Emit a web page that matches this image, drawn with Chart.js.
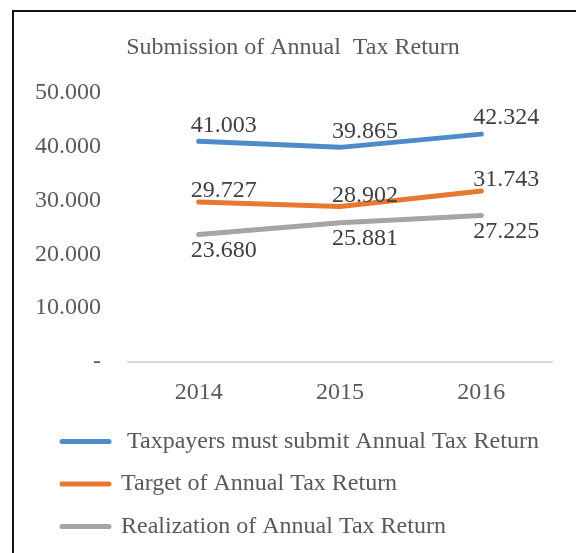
<!DOCTYPE html>
<html>
<head>
<meta charset="utf-8">
<script src="https://cdn.jsdelivr.net/npm/chart.js@4/dist/chart.umd.min.js"></script>
<style>
  html, body { margin: 0; padding: 0; background: #fff; overflow: hidden; }
  #wrap { position: absolute; left: 0; top: 0; width: 576px; height: 558px; }
  #frame { position: absolute; left: 12px; top: 10px; width: 700px; height: 700px;
           border-left: 2px solid #111; border-top: 2px solid #111; pointer-events: none; }
</style>
</head>
<body>
<div id="wrap"><canvas id="line_chart"></canvas></div>
<div id="frame"></div>
<script>
const years = ["2014", "2015", "2016"];
const mustSubmit = [41003, 39865, 42324];
const target = [29727, 28902, 31743];
const realization = [23680, 25881, 27225];
const yTickLabels = ["-", "10.000", "20.000", "30.000", "40.000", "50.000"];
const seriesNames = [
  " Taxpayers must submit Annual Tax Return",
  "Target of Annual Tax Return",
  "Realization of Annual Tax Return",
];

const serif = '"Liberation Serif", "Times New Roman", serif';

// 41003 -> "41.003"
function fmt(v) {
  return (v / 1000).toFixed(3);
}

// value labels next to each point (no datalabels plugin available)
const valueLabels = {
  id: "valueLabels",
  afterDatasetsDraw(chart) {
    const ctx = chart.ctx;
    ctx.save();
    ctx.font = "24px " + serif;
    ctx.fillStyle = "#404040";
    ctx.textAlign = "center";
    ctx.textBaseline = "middle";
    chart.data.datasets.forEach((ds, i) => {
      chart.getDatasetMeta(i).data.forEach((pt, j) => {
        ctx.fillText(fmt(ds.data[j]), pt.x + 25, pt.y + ds.labelShift);
      });
    });
    ctx.restore();
  },
};

// legend sits a bit further right than the y axis labels
const legendIndent = {
  id: "legendIndent",
  afterLayout(chart) {
    chart.legend.left += 9.5;
    chart.legend.right += 9.5;
  },
};

const ctx = document.getElementById("line_chart");

new Chart(ctx, {
  type: "line",
  data: {
    labels: years,
    datasets: [
      {
        label: seriesNames[0],
        data: mustSubmit,
        borderColor: "#4f8bc9",
        backgroundColor: "#4f8bc9",
        labelShift: -16,
      },
      {
        label: seriesNames[1],
        data: target,
        borderColor: "#e8782f",
        backgroundColor: "#e8782f",
        labelShift: -11,
      },
      {
        label: seriesNames[2],
        data: realization,
        borderColor: "#a5a5a5",
        backgroundColor: "#a5a5a5",
        labelShift: 16,
      },
    ],
  },
  options: {
    responsive: true,
    maintainAspectRatio: false,
    animation: false,
    layout: { padding: { left: 34, right: 24, top: 33, bottom: 9.5 } },
    elements: {
      line: { borderWidth: 5, tension: 0, borderCapStyle: "round", borderJoinStyle: "round" },
      point: { radius: 0, hoverRadius: 0, borderWidth: 5 },
    },
    scales: {
      x: {
        offset: true,
        grid: { display: false },
        border: { color: "#d9d9d9", width: 2 },
        ticks: { color: "#595959", font: { family: serif, size: 24 }, padding: 8 },
        afterFit(scale) {
          scale.height = 49;
        },
      },
      y: {
        min: 0,
        max: 50000,
        grid: { display: false, drawTicks: false },
        border: { display: false },
        ticks: {
          stepSize: 10000,
          color: "#595959",
          font: { family: serif, size: 24 },
          padding: 27,
          callback: (v, i) => yTickLabels[i],
        },
        afterFit(scale) {
          scale.width = 94;
        },
      },
    },
    plugins: {
      title: {
        display: true,
        text: "Submission of Annual  Tax Return",
        color: "#595959",
        font: { family: serif, size: 24, weight: "normal" },
        padding: { top: 0, bottom: 31 },
      },
      legend: {
        position: "bottom",
        align: "start",
        labels: {
          color: "#595959",
          font: { family: serif, size: 24 },
          usePointStyle: true,
          pointStyle: "line",
          pointStyleWidth: 47,
          padding: 18.5,
          generateLabels: (chart) =>
            Chart.defaults.plugins.legend.labels
              .generateLabels(chart)
              .map((item) => ({ ...item, lineCap: "round" })),
        },
      },
      tooltip: { enabled: false },
    },
  },
  plugins: [valueLabels, legendIndent],
});
</script>
</body>
</html>
